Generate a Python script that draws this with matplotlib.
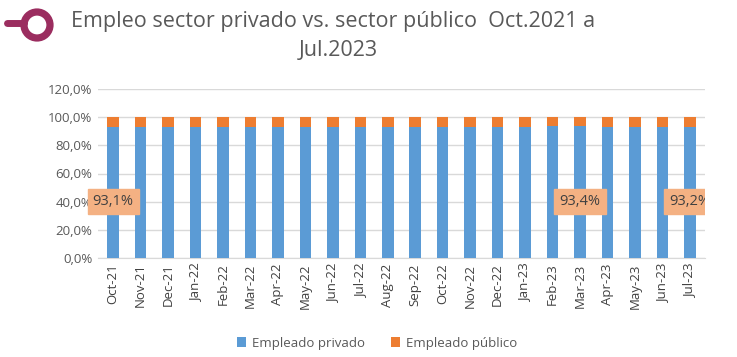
import matplotlib.pyplot as plt
import matplotlib.patches as mpatches
import numpy as np

meses = ["Oct-21", "Nov-21", "Dec-21", "Jan-22", "Feb-22", "Mar-22", "Apr-22", "May-22",
         "Jun-22", "Jul-22", "Aug-22", "Sep-22", "Oct-22", "Nov-22", "Dec-22", "Jan-23",
         "Feb-23", "Mar-23", "Apr-23", "May-23", "Jun-23", "Jul-23"]
privado = [93.1, 92.7, 93.1, 93.1, 93.1, 93.2, 93.1, 93.2, 93.1, 93.2, 93.1,
           93.2, 92.8, 93.1, 93.1, 93.2, 93.6, 93.4, 92.7, 93.2, 93.1, 93.2]
publico = [100 - v for v in privado]
etiquetas = {0: "93,1%", 17: "93,4%", 21: "93,2%"}

plt.rcParams['font.family'] = ['Open Sans', 'DejaVu Sans']

fig = plt.figure(figsize=(7.37, 3.57), dpi=100)
ax = fig.add_axes([98/737, 1 - 258/357, 607/737, 169/357])

x = np.arange(len(meses))
ax.bar(x, privado, width=0.42, color="#5B9BD5", zorder=3, label="Empleado privado")
ax.bar(x, publico, bottom=privado, width=0.42, color="#ED7D31", zorder=3, label="Empleado público")

for i, txt in etiquetas.items():
    t = ax.text(x[i], 40, txt, ha="center", va="center", fontsize=10.5, color="#404040", zorder=5,
                bbox=dict(boxstyle="square,pad=0.35", fc="#F4B183", ec="#F4B183"))
    # the last label is cut at the plot edge, like in the original
    if i == len(meses) - 1:
        t.set_clip_on(True)
        t.set_clip_box(ax.bbox)
        bp = t.get_bbox_patch()
        bp.set_clip_on(True)
        bp.set_clip_box(ax.bbox)

ax.set_ylim(0, 120)
ax.set_xlim(-0.55, len(meses) - 0.45)
ax.set_yticks(range(0, 121, 20))
ax.set_yticklabels([f"{v},0%" for v in range(0, 121, 20)], fontsize=9.5, color="#595959")
ax.set_xticks(x)
ax.set_xticklabels(meses, rotation=90, fontsize=9.5, color="#404040")
ax.grid(axis="y", color="#D9D9D9", lw=1, zorder=0)
for s in ["top", "right", "left"]:
    ax.spines[s].set_visible(False)
ax.spines["bottom"].set_color("#D9D9D9")
ax.tick_params(length=0, pad=4)

fig.text(333/737, 1 - 22/357, "Empleo sector privado vs. sector público  Oct.2021 a",
         ha="center", va="center", fontsize=15.5, color="#595959")
fig.text(338/737, 1 - 50/357, "Jul.2023", ha="center", va="center", fontsize=15.5, color="#595959")

# logo
fig.add_artist(plt.Line2D([7/737, 24/737], [1 - 23/357, 1 - 23/357], color="#9B2D5F", lw=5,
                          solid_capstyle="round", transform=fig.transFigure))
fig.add_artist(mpatches.Ellipse((37/737, 1 - 25/357), 26/737, 26/357, fill=False,
                                ec="#9B2D5F", lw=5.2, transform=fig.transFigure))

fig.legend(loc="center", bbox_to_anchor=(377/737, 1 - 343/357), ncol=2, frameon=False,
           fontsize=9.5, handlelength=0.7, handleheight=0.7, columnspacing=2.0,
           handletextpad=0.4, labelcolor="#595959")

fig.savefig("out.png", dpi=100)
